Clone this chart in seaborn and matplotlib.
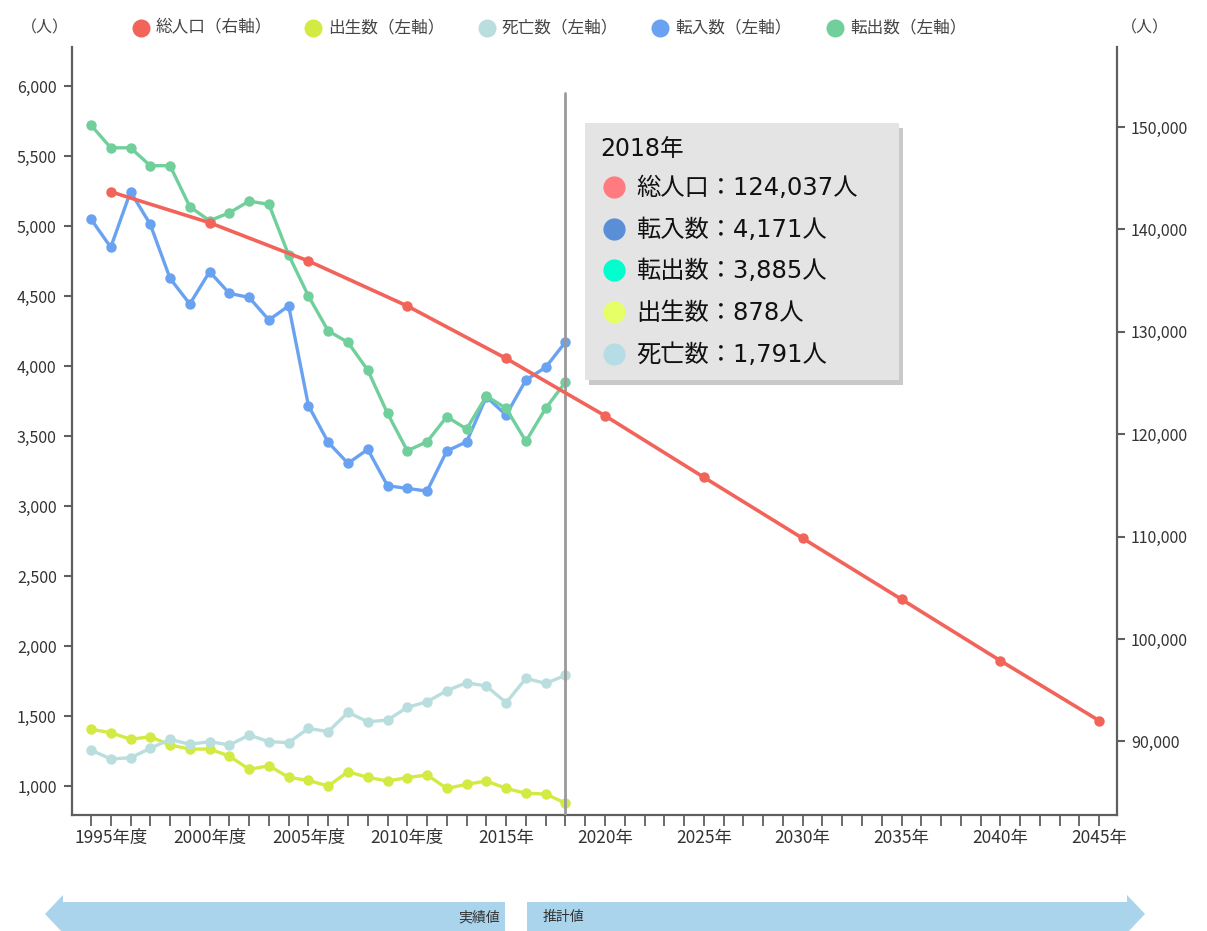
import matplotlib
matplotlib.use("Agg")
import matplotlib.pyplot as plt
import pandas as pd
import seaborn as sns
from matplotlib.patches import Polygon, Rectangle
from matplotlib.ticker import FixedLocator, MultipleLocator, FuncFormatter

# ---- data -------------------------------------------------------------
years = list(range(1994, 2019))
births = [1405, 1381, 1334, 1352, 1293, 1264, 1264, 1214, 1119, 1145, 1062, 1040, 1000,
          1102, 1062, 1036, 1060, 1079, 983, 1012, 1036, 983, 948, 943, 878]
deaths = [1257, 1193, 1202, 1269, 1333, 1298, 1317, 1293, 1364, 1317, 1310, 1412, 1388,
          1526, 1459, 1471, 1562, 1602, 1681, 1738, 1714, 1595, 1769, 1733, 1791]
moves_in = [5050, 4848, 5245, 5012, 4626, 4443, 4674, 4519, 4490, 4329, 4430, 3717, 3455,
            3305, 3405, 3145, 3126, 3107, 3393, 3459, 3780, 3650, 3900, 3991, 4171]
moves_out = [5721, 5559, 5559, 5431, 5431, 5138, 5038, 5095, 5178, 5155, 4793, 4500, 4251,
             4169, 3971, 3662, 3395, 3459, 3638, 3550, 3786, 3698, 3462, 3698, 3885]

pop_years = [1995, 2000, 2005, 2010, 2015, 2018, 2020, 2025, 2030, 2035, 2040, 2045]
population = [143675, 140654, 136914, 132520, 127400, 124037, 121807, 115791,
              109834, 103877, 97881, 92021]

series_names = ["出生数", "死亡数", "転入数", "転出数"]
legend_labels = ["総人口（右軸）", "出生数（左軸）", "死亡数（左軸）", "転入数（左軸）", "転出数（左軸）"]

x_tick_years = [1995, 2000, 2005, 2010, 2015, 2020, 2025, 2030, 2035, 2040, 2045]
x_tick_labels = ["1995年度", "2000年度", "2005年度", "2010年度", "2015年", "2020年",
                 "2025年", "2030年", "2035年", "2040年", "2045年"]
left_ticks = [1000, 1500, 2000, 2500, 3000, 3500, 4000, 4500, 5000, 5500, 6000]
right_ticks = [90000, 100000, 110000, 120000, 130000, 140000, 150000]

marker_year = 2018
tooltip_title = "2018年"

# ---- styling ------------------------------------------------------------
sns.set_style("white")
plt.rcParams["font.family"] = ["Noto Sans CJK JP", "DejaVu Sans"]
tooltip_family = ["DejaVu Sans", "Noto Sans CJK JP"]

pop_color = "#F2635A"
line_colors = {"出生数": "#D3EA42", "死亡数": "#B9DEDD", "転入数": "#6AA2F2", "転出数": "#70CF9B"}
axis_color = "#5f5f5f"
text_color = "#333333"

W, H = 1207, 931
fig = plt.figure(figsize=(W / 100, H / 100), dpi=100)
fig.patch.set_facecolor("white")

ax_l, ax_r, ax_t, ax_b = 72, 1117, 47, 815
ax = fig.add_axes([ax_l / W, 1 - ax_b / H, (ax_r - ax_l) / W, (ax_b - ax_t) / H])
ax.set_facecolor("white")

left_df = pd.DataFrame({
    "year": years * 4,
    "value": births + deaths + moves_in + moves_out,
    "series": sum([[n] * len(years) for n in series_names], []),
})

sns.lineplot(data=left_df, x="year", y="value", hue="series", hue_order=series_names,
             palette=line_colors, marker="o", markersize=7.5, markeredgewidth=0,
             linewidth=2.4, legend=False, ax=ax, zorder=3)

ax.set_xlim(1993.04, 2045.9)
ax.set_ylim(793, 6279)

ax2 = ax.twinx()
pop_df = pd.DataFrame({"year": pop_years, "value": population})
marker_idx = [i for i, y in enumerate(pop_years) if y != marker_year]
sns.lineplot(data=pop_df, x="year", y="value", color=pop_color, marker="o",
             markersize=7.5, markeredgewidth=0, linewidth=2.6, markevery=marker_idx,
             ax=ax2, zorder=4)
ax2.set_ylim(82813, 157812)
ax2.set_xlim(1993.04, 2045.9)

# vertical cursor line at the highlighted year
ax.axvline(marker_year, ymin=0, ymax=(ax_b - 93) / (ax_b - ax_t), color="#9a9a9a",
           linewidth=2, zorder=5)

# ---- axes ---------------------------------------------------------------
for a in (ax, ax2):
    a.set_xlabel("")
    a.set_ylabel("")
    a.spines["top"].set_visible(False)
    for s in ("left", "right", "bottom"):
        a.spines[s].set_color(axis_color)
        a.spines[s].set_linewidth(1.6)

ax.spines["right"].set_visible(False)
ax2.spines["left"].set_visible(False)
ax2.spines["bottom"].set_visible(False)

ax.yaxis.set_major_locator(FixedLocator(left_ticks))
ax.yaxis.set_major_formatter(FuncFormatter(lambda v, p: f"{int(v):,}"))
ax2.yaxis.set_major_locator(FixedLocator(right_ticks))
ax2.yaxis.set_major_formatter(FuncFormatter(lambda v, p: f"{int(v):,}"))

ax.xaxis.set_major_locator(FixedLocator(x_tick_years))
ax.set_xticklabels(x_tick_labels)
ax.xaxis.set_minor_locator(MultipleLocator(1))

ax.tick_params(axis="y", which="major", direction="out", length=6, width=1.5,
               color=axis_color, labelsize=11.5, labelcolor=text_color, pad=5, left=True)
ax2.tick_params(axis="y", which="major", direction="out", length=6, width=1.5,
                color=axis_color, labelsize=11.5, labelcolor=text_color, pad=4, right=True)
ax.tick_params(axis="x", which="both", direction="out", length=8, width=1.3,
               color=axis_color, labelsize=12.5, labelcolor=text_color, pad=2, bottom=True)
ax2.tick_params(axis="x", which="both", bottom=False, labelbottom=False)

# ---- overlay for legend, tooltip and period arrows ----------------------
ov = fig.add_axes([0, 0, 1, 1], zorder=20)
ov.set_xlim(0, W)
ov.set_ylim(H, 0)
ov.axis("off")

legend_colors = [pop_color, line_colors["出生数"], line_colors["死亡数"],
                 line_colors["転入数"], line_colors["転出数"]]
legend_x = [141, 313, 487, 660, 835]
for lx, lab, col in zip(legend_x, legend_labels, legend_colors):
    ov.plot([lx], [28], "o", color=col, markersize=13, markeredgewidth=0)
    ov.text(lx + 15, 28, lab, fontsize=12, color="#444444", va="center", ha="left")

ov.text(45, 28, "（人）", fontsize=11.5, color="#444444", va="center", ha="center")
ov.text(1145, 28, "（人）", fontsize=11.5, color="#444444", va="center", ha="center")

# tooltip box
tx0, ty0, tx1, ty1 = 585, 123, 899, 380
ov.add_patch(Rectangle((tx0 + 4, ty0 + 5), tx1 - tx0, ty1 - ty0, facecolor="#c9c9c9",
                       edgecolor="none"))
ov.add_patch(Rectangle((tx0, ty0), tx1 - tx0, ty1 - ty0, facecolor="#e4e4e4",
                       edgecolor="none"))
ov.text(600, 149, tooltip_title, fontsize=17, color="#111111", va="center", ha="left",
        family=tooltip_family)

idx = years.index(marker_year)
tooltip_rows = [
    ("総人口", population[pop_years.index(marker_year)], "#FF7B7F"),
    ("転入数", moves_in[idx], "#5A8FD7"),
    ("転出数", moves_out[idx], "#00FFCC"),
    ("出生数", births[idx], "#E6FF66"),
    ("死亡数", deaths[idx], "#B6DDE6"),
]
for k, (name, val, col) in enumerate(tooltip_rows):
    ry = 187 + k * 41.7
    ov.plot([614], [ry], "o", color=col, markersize=16, markeredgewidth=0)
    ov.text(636, ry + 1, f"{name}：{val:,}人", fontsize=17.5, color="#111111",
            va="center", ha="left", family=tooltip_family)

# period arrows
arrow_color = "#A9D4EC"
ov.add_patch(Polygon([(505, 902), (63, 902), (63, 895), (45, 914), (63, 933),
                      (63, 931), (505, 931)], closed=True, facecolor=arrow_color,
                     edgecolor="none"))
ov.add_patch(Polygon([(527, 902), (1127, 902), (1127, 895), (1145, 914), (1127, 933),
                      (1127, 931), (527, 931)], closed=True, facecolor=arrow_color,
                     edgecolor="none"))
ov.text(500, 917, "実績値", fontsize=10, color="#333333", va="center", ha="right")
ov.text(543, 917, "推計値", fontsize=10, color="#333333", va="center", ha="left")

fig.savefig("out.png", dpi=100)
